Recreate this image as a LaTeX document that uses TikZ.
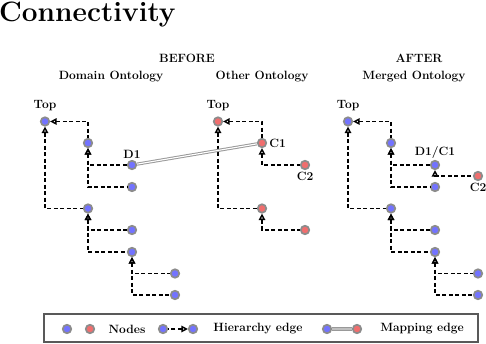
\documentclass[tikz,border=0pt]{standalone}
\definecolor{mBlue}{RGB}{115,115,255}
\definecolor{mRed}{RGB}{240,110,110}
\definecolor{mRing}{RGB}{140,140,140}
\usepackage{tikz}
\usetikzlibrary{arrows.meta,positioning}

\begin{document}
\begin{tikzpicture}[x=1pt, y=-1pt,
    nd/.style={circle, inner sep=0pt, minimum size=8.5pt, draw=mRing, line width=1.7pt},
    bn/.style={nd, fill=mBlue},
    rn/.style={nd, fill=mRed},
    hier/.style={dash pattern=on 4pt off 2.5pt, line width=1.4pt,
      {Triangle[open, length=6.5pt, width=6.5pt, line width=1.4pt]}-},
    map/.style={draw=black!40, double=white, double distance=1.1pt, line width=1pt},
    lbl/.style={font=\bfseries\fontsize{12}{14}\selectfont, inner sep=1pt}]
    \useasboundingbox (0,0) rectangle (486,344);
    % title
    \node[anchor=base west, inner sep=0pt, font=\bfseries\fontsize{28}{30}\selectfont] (title) at (-1,22) {Connectivity};
    % headers
    \node[lbl] (before) at (187,58) {BEFORE};
    \node[lbl] (after) at (419,58) {AFTER};
    \node[lbl] (hdom) at (111,77) {Domain Ontology};
    \node[lbl] (hoth) at (262,77) {Other Ontology};
    \node[lbl] (hmrg) at (414,77) {Merged Ontology};

    % domain ontology
    \node[bn] (dtop) at (45,121.5) {};
    \node[bn] (da) at (88,143) {};
    \node[bn] (dd1) at (132,165) {};
    \node[bn] (da2) at (132,187) {};
    \node[bn] (db) at (88,208.5) {};
    \node[bn] (db1) at (132,230) {};
    \node[bn] (db2) at (132,252) {};
    \node[bn] (db21) at (175,273.5) {};
    \node[bn] (db22) at (175,295) {};
    \node[lbl, above=4pt of dtop.north, anchor=south] (ldtop) {Top};
    \node[lbl, above=0.5pt of dd1.north, anchor=south] (ldd1) {D1};
    \draw[hier] (dtop) -| (da);
    \draw[hier] (da) |- (dd1);
    \draw[hier] (da) |- (da2);
    \draw[hier] (dtop) |- (db);
    \draw[hier] (db) |- (db1);
    \draw[hier] (db) |- (db2);
    \draw[hier] (db2) |- (db21);
    \draw[hier] (db2) |- (db22);

    % other ontology
    \node[rn] (otop) at (218,121.5) {};
    \node[rn] (oc1) at (262,143) {};
    \node[rn] (oc2) at (305,165) {};
    \node[rn] (ox) at (262,208.5) {};
    \node[rn] (ox1) at (305,230) {};
    \node[lbl, above=4pt of otop.north, anchor=south] (lotop) {Top};
    \node[lbl, right=1pt of oc1] (loc1) {C1};
    \node[lbl, below=0.5pt of oc2] (loc2) {C2};
    \draw[hier] (otop) -| (oc1);
    \draw[hier] (oc1) |- (oc2);
    \draw[hier] (otop) |- (ox);
    \draw[hier] (ox) |- (ox1);

    % mapping D1 -- C1
    \draw[map] (dd1) -- (oc1);

    % merged ontology
    \node[bn] (mtop) at (348,121.5) {};
    \node[bn] (ma) at (391,143) {};
    \node[bn] (md1) at (435,165) {};
    \node[rn] (mc2) at (478,176) {};
    \node[bn] (ma2) at (435,187) {};
    \node[bn] (mb) at (391,208.5) {};
    \node[bn] (mb1) at (435,230) {};
    \node[bn] (mb2) at (435,252) {};
    \node[bn] (mb21) at (478,273.5) {};
    \node[bn] (mb22) at (478,295) {};
    \node[lbl, above=4pt of mtop.north, anchor=south] (lmtop) {Top};
    \node[lbl, above=0.5pt of md1.north, anchor=south] (lmd1) {D1/C1};
    \node[lbl, below=0.5pt of mc2] (lmc2) {C2};
    \draw[hier] (mtop) -| (ma);
    \draw[hier] (ma) |- (md1);
    \draw[hier] (md1) |- (mc2);
    \draw[hier] (ma) |- (ma2);
    \draw[hier] (mtop) |- (mb);
    \draw[hier] (mb) |- (mb1);
    \draw[hier] (mb) |- (mb2);
    \draw[hier] (mb2) |- (mb21);
    \draw[hier] (mb2) |- (mb22);

    % legend
    \draw[black!65, line width=1.2pt] (44,314) rectangle (478,342);
    \node[bn] (kb) at (67,329) {};
    \node[rn] (kr) at (90,329) {};
    \node[lbl] (knodes) at (127,329) {Nodes};
    \node[bn] (kh1) at (163,329) {};
    \node[bn] (kh2) at (193,329) {};
    \draw[hier] (kh2) -- (kh1);
    \node[lbl] (khier) at (258,329) {Hierarchy edge};
    \node[bn] (km1) at (327,329) {};
    \node[rn] (km2) at (357,329) {};
    \draw[map, double=black!25] (km1) -- (km2);
    \node[lbl] (kmap) at (422,329) {Mapping edge};
\end{tikzpicture}
\end{document}
